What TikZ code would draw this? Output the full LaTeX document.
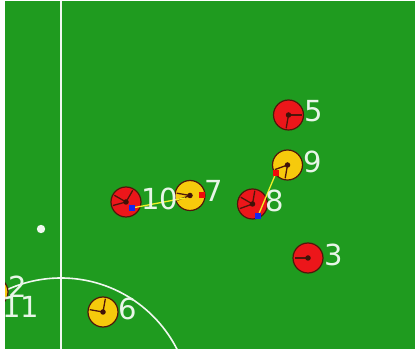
\documentclass[tikz,border=0pt]{standalone}
\usepackage{fontspec}
\setmainfont{DejaVu Sans}
\definecolor{pitch}{RGB}{31,155,31}
\definecolor{redteam}{RGB}{236,22,26}
\definecolor{yelteam}{RGB}{246,202,12}
\definecolor{outl}{RGB}{80,22,10}
\definecolor{lbl}{RGB}{232,246,232}
\definecolor{fieldline}{RGB}{240,248,240}
\definecolor{sqblue}{RGB}{20,40,240}
\definecolor{sqred}{RGB}{240,10,10}
\definecolor{linkyel}{RGB}{240,240,40}
\tikzset{
  player/.style={circle, minimum size=30pt, inner sep=0pt, draw=outl, line width=1.2pt},
  teamA/.style={player, fill=redteam},
  teamB/.style={player, fill=yelteam},
  numlabel/.style={text=lbl, inner sep=0pt, font=\fontsize{29}{29}\selectfont},
  heading/.style={draw=outl, line width=1.3pt},
  hub/.style={circle, fill=outl!80!black, inner sep=0pt, minimum size=5.5pt},
  marker/.style={inner sep=0pt, minimum size=5.5pt},
  link/.style={draw=linkyel, line width=1.3pt}
}
\newcommand{\headings}[2]{%
  \foreach \a in {#2} {\draw[heading] (#1.center) -- ++(\a:13.5pt);}
  \node[hub] at (#1.center) {};}
\begin{document}
\begin{tikzpicture}[x=1pt,y=-1pt]
\useasboundingbox (0,0) rectangle (415,352);
\fill[white] (0,0) rectangle (415,352);
\fill[pitch] (5,1) rectangle (415,349);
\begin{scope}
\clip (5,1) rectangle (415,349);
% field markings
\draw[fieldline, line width=2.4pt] (61,1) -- (61,349);
\draw[fieldline, line width=1.6pt] (61,408) circle (130);
\fill[fieldline] (41,229) circle (4.2);
% players
\node[teamA] (p5) at (288.5,115) {};
\node[teamB] (p9) at (287.5,165) {};
\node[teamB] (p7) at (190,195.5) {};
\node[teamA] (p10) at (126,202) {};
\node[teamA] (p8) at (252.5,204) {};
\node[teamA] (p3) at (308,258) {};
\node[teamB] (p6) at (103,312) {};
\node[teamB] (p2) at (-7,292) {};
\headings{p5}{0,-100}
\headings{p9}{200,-100}
\headings{p7}{170,-160}
\headings{p10}{150,-165,60}
\headings{p8}{150,200,80}
\headings{p3}{180}
\headings{p6}{80,170}
% markers and links
\coordinate (e7) at (185,198);
\node[marker, fill=sqblue] (b10) at (132,208) {};
\node[marker, fill=sqred] (r7) at (202,195) {};
\node[marker, fill=sqred] (r9) at (276,173) {};
\node[marker, fill=sqblue] (b8) at (258,216) {};
\draw[link] (b10) -- (e7);
\draw[link] (b8) -- (r9);
\node[marker, fill=sqblue] at (b10) {};
\node[marker, fill=sqblue] at (b8) {};
\node[marker, fill=sqred] at (r9) {};
% labels
\node[numlabel] (l5) at (314,111) {5};
\node[numlabel] (l9) at (313,162) {9};
\node[numlabel] (l7) at (214,191) {7};
\node[numlabel] (l10) at (160,198.5) {10};
\node[numlabel] (l8) at (275,201) {8};
\node[numlabel] (l3) at (334,255) {3};
\node[numlabel] (l6) at (128,309) {6};
\node[numlabel] (l2) at (18,287) {2};
\node[numlabel] (l11) at (21,307) {11};
\end{scope}
\end{tikzpicture}
\end{document}
